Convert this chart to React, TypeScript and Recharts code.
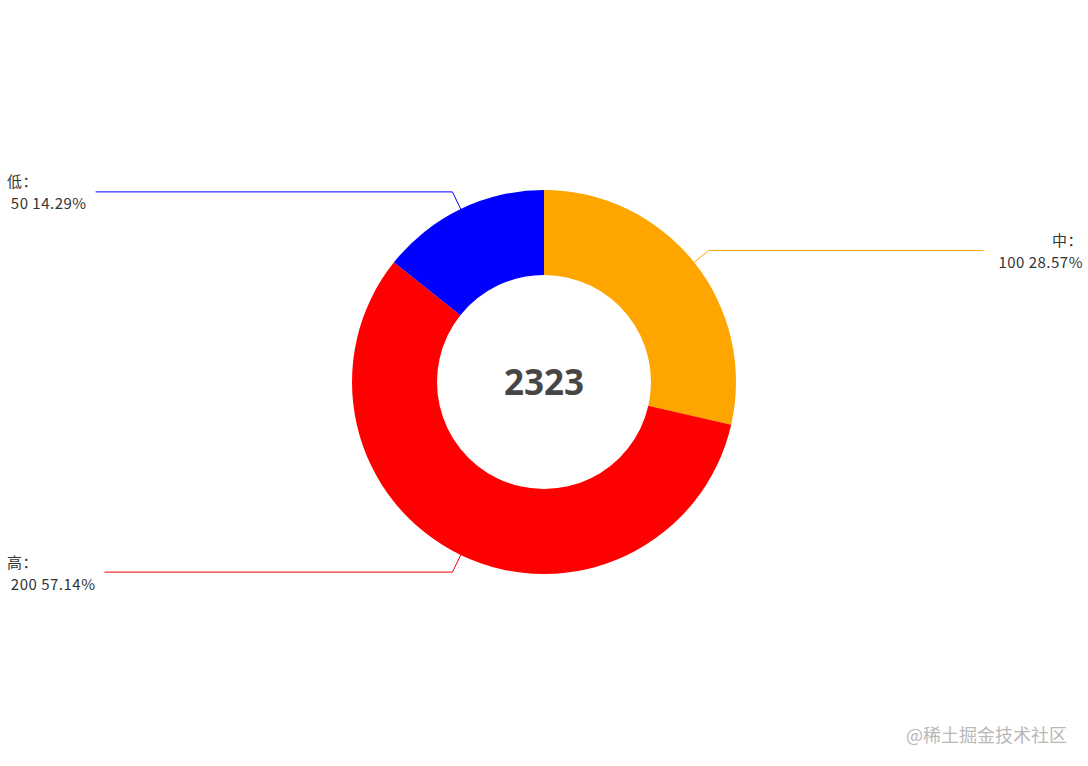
import React from 'react';
import { PieChart, Pie, Cell, Label } from 'recharts';

const names = ['中', '高', '低'];
const values = [100, 200, 50];
const colors = ['#FFA500', '#FF0000', '#0000FF'];
const centerText = '2323';
const watermark = '@稀土掘金技术社区';

const data = names.map((n, i) => ({ name: n, value: values[i] }));
const total = values.reduce((a, b) => a + b, 0);

const RADIAN = Math.PI / 180;
const FONT_SIZE = 15;
const LETTER_SPACING = 0.5;
const FONT = `${FONT_SIZE}px "Noto Sans CJK SC", "Noto Sans", sans-serif`;
const WIDTH = 1088;
const HEIGHT = 766;

function measure(text: string): number {
  let w = text.length * 8;
  if (typeof document !== 'undefined') {
    const c = document.createElement('canvas');
    const ctx = c.getContext('2d');
    if (ctx) {
      ctx.font = FONT;
      w = ctx.measureText(text).width;
    }
  }
  return w + text.length * LETTER_SPACING;
}

function renderLabel(props: any) {
  const { cx, cy, midAngle, outerRadius, name, value, index } = props;
  const fill = colors[index % colors.length];
  const cos = Math.cos(-midAngle * RADIAN);
  const sin = Math.sin(-midAngle * RADIAN);
  const sx = cx + outerRadius * cos;
  const sy = cy + outerRadius * sin;
  const mx = cx + (outerRadius + 19) * cos;
  const my = cy + (outerRadius + 19) * sin;
  const right = cos >= 0;
  const line1 = `${name}：`;
  const line2 = ` ${value} ${((value / total) * 100).toFixed(2)}%`;
  const w = Math.max(measure(line1), measure(line2));
  const edge = 7;
  const gap = 9;
  const ex = right ? WIDTH - edge - w - gap : edge + w + gap;
  const tx = right ? WIDTH - 5 : edge;
  const textStyle = { font: FONT, letterSpacing: LETTER_SPACING, whiteSpace: 'pre' as const };
  return (
    <g key={`lbl-${index}`}>
      <polyline
        points={`${sx},${sy} ${mx},${my} ${ex},${my}`}
        fill="none"
        stroke={fill}
        strokeWidth={1}
      />
      <text
        x={tx}
        y={my - 11}
        textAnchor={right ? 'end' : 'start'}
        dominantBaseline="central"
        fill="#333"
        style={textStyle}
      >
        {line1}
      </text>
      <text
        x={tx}
        y={my + 11}
        textAnchor={right ? 'end' : 'start'}
        dominantBaseline="central"
        fill="#333"
        style={textStyle}
      >
        {line2}
      </text>
    </g>
  );
}

export default function App() {
  return (
    <div style={{ position: 'absolute', left: 0, top: 0, width: WIDTH, height: HEIGHT, background: '#fff' }}>
      <PieChart width={WIDTH} height={HEIGHT} margin={{ top: 0, right: 0, bottom: 0, left: 0 }}>
        <Pie
          data={data}
          dataKey="value"
          nameKey="name"
          cx={544}
          cy={382}
          innerRadius={107}
          outerRadius={192}
          startAngle={90}
          endAngle={-270}
          stroke="none"
          paddingAngle={0}
          isAnimationActive={false}
          label={renderLabel}
          labelLine={false}
        >
          {data.map((d, i) => (
            <Cell key={d.name} fill={colors[i]} />
          ))}
          <Label
            value={centerText}
            position="center"
            fill="#464646"
            fontSize={35}
            fontWeight="bold"
            fontFamily='"Noto Sans", sans-serif'
          />
        </Pie>
      </PieChart>
      <div
        style={{
          position: 'absolute',
          left: 906,
          top: 721,
          fontSize: 18,
          color: '#b8b8b8',
          fontFamily: '"Noto Sans CJK SC", sans-serif',
          whiteSpace: 'nowrap',
        }}
      >
        {watermark}
      </div>
    </div>
  );
}
